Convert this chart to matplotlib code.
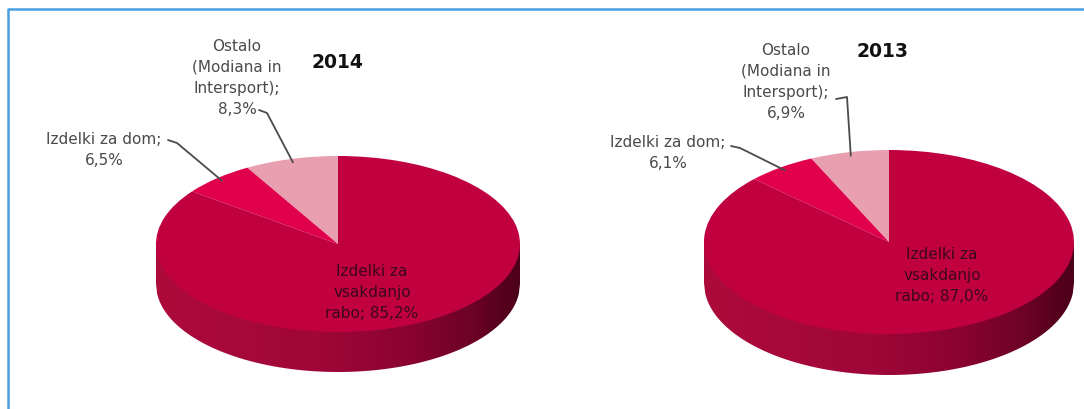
import numpy as np
import matplotlib.pyplot as plt
from matplotlib.colors import LinearSegmentedColormap
from matplotlib.patches import Polygon

W, H = 1084, 410

years = ["2014", "2013"]
categories = ["Ostalo\n(Modiana in\nIntersport)", "Izdelki za dom", "Izdelki za\nvsakdanjo\nrabo"]
separators = [";\n", ";\n", "; "]
shares_2014 = [8.3, 6.5, 85.2]
shares_2013 = [6.9, 6.1, 87.0]

top_colors = ["#e8a0b1", "#e1004c", "#c10040"]
side_cmap = LinearSegmentedColormap.from_list(
    "side", [(0.0, "#ad0b3c"), (0.45, "#a00638"), (0.7, "#8a0330"),
             (0.88, "#6a0226"), (1.0, "#4c001a")])

# pixel geometry of each pie: centre, semi-axes, thickness
pies = [
    dict(year=years[0], values=shares_2014, cx=338, cy=245, a=182, b=88, d=40,
         title_xy=(337, 62),
         label_xy=[(237, 78), (104, 150), (372, 292)],
         hooks=[[(259, 111), (267, 114)], [(168, 141), (177, 144)]]),
    dict(year=years[1], values=shares_2013, cx=889, cy=243, a=185, b=92, d=41,
         title_xy=(883, 52),
         label_xy=[(786, 82), (668, 153), (942, 276)],
         hooks=[[(836, 100), (847, 98)], [(731, 147), (740, 149)]]),
]


def pct(v):
    return f"{v:.1f}".replace(".", ",") + "%"


fig = plt.figure(figsize=(W / 100, H / 100), dpi=100)

for p in pies:
    cx, cy, a, b = p["cx"], p["cy"], p["a"], p["b"]
    ax = fig.add_axes([0, 0, 1, 1])
    ax.patch.set_alpha(0)

    def px(x, y):
        return (x - cx) / a, (cy - y) / b

    # side of the cylinder with a left-to-right shading
    dd = p["d"] / b
    xs = np.linspace(-1, 1, 300)
    lower = -np.sqrt(1 - xs ** 2) - dd
    side = Polygon(list(zip(xs, lower)) + [(1, 0), (-1, 0)], closed=True,
                   facecolor="none", edgecolor="none")
    ax.add_patch(side)
    grad = np.linspace(0, 1, 256)[None, :]
    im = ax.imshow(grad, cmap=side_cmap, extent=[-1, 1, -1 - dd, 0],
                   aspect="auto", zorder=0, interpolation="bilinear")
    im.set_clip_path(side)

    wedges, _ = ax.pie(p["values"], colors=top_colors, startangle=90,
                       counterclock=True, radius=1, center=(0, 0),
                       wedgeprops=dict(linewidth=0))
    ax.set_aspect("auto")
    ax.set_xlim((0 - cx) / a, (W - cx) / a)
    ax.set_ylim((cy - H) / b, cy / b)
    ax.axis("off")

    labels = [c + s + pct(v) for c, s, v in zip(categories, separators, p["values"])]

    # outer labels with leader lines to the wedge rim
    start = 90.0
    for i in range(2):
        ang = np.deg2rad(start + p["values"][i] * 3.6 / 2)
        start += p["values"][i] * 3.6
        tip = (0.96 * np.cos(ang), 0.96 * np.sin(ang))
        pts = [px(*q) for q in p["hooks"][i]] + [tip]
        ax.plot([q[0] for q in pts], [q[1] for q in pts], color="#4a4a4a",
                lw=1.3, solid_capstyle="round")
        tx, ty = px(*p["label_xy"][i])
        ax.text(tx, ty, labels[i], ha="center", va="center", fontsize=11,
                color="#4a4a4a", linespacing=1.5)

    tx, ty = px(*p["label_xy"][2])
    ax.text(tx, ty, labels[2], ha="center", va="center", fontsize=11,
            color="#3a0818", linespacing=1.5)

    tx, ty = px(*p["title_xy"])
    ax.text(tx, ty, p["year"], ha="center", va="center", fontsize=13.5,
            fontweight="bold", color="#111111")

# thin blue frame along the top and left
frame = fig.add_axes([0, 0, 1, 1])
frame.patch.set_alpha(0)
frame.set_xlim(0, W)
frame.set_ylim(H, 0)
frame.axis("off")
frame.plot([8, 8, W], [H, 10, 10], color="#4a9fe3", lw=1.8)

fig.savefig("out.png", dpi=100)
